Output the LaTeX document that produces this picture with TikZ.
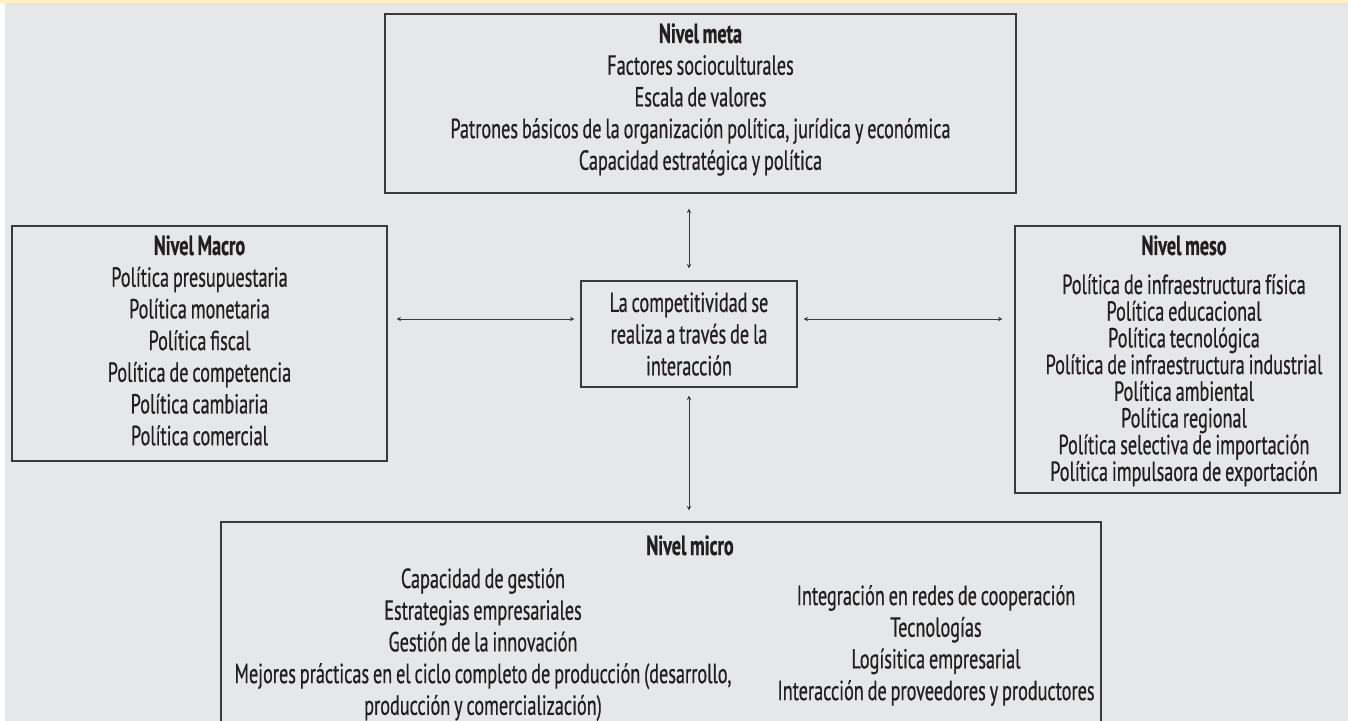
\documentclass[tikz,border=0pt]{standalone}
\usepackage{fontspec}
\setmainfont{PT Sans}[FakeStretch=0.66,WordSpace=0.8,FakeBold=0.6]
\usetikzlibrary{arrows.meta}
\definecolor{panelgray}{HTML}{E6E7E8}
\definecolor{bandyellow}{HTML}{FFF1C6}
\definecolor{inkblack}{HTML}{231F20}
\definecolor{edgegray}{HTML}{3A3A3A}
\begin{document}
\begin{tikzpicture}[x=0.5pt,y=-0.5pt,>={Stealth[length=2.2pt,width=2.2pt]},
  levelbox/.style={draw=edgegray,line width=0.65pt,inner sep=0pt},
  leveltext/.style={text width=#1,align=flush center,anchor=base,inner sep=0pt,text=inkblack,
    font=\fontsize{13.8}{15.85}\selectfont},
  leveltext/.default=300pt,
  link/.style={<->,draw=edgegray,line width=0.45pt}]
  \useasboundingbox (0,0) rectangle (1348,721);

  % Background
  \fill[white] (0,0) rectangle (1348,721);
  \fill[panelgray] (5,3.3) rectangle (1348,721);
  \fill[bandyellow] (0,0) rectangle (1348,3.3);
  \clip (0,0) rectangle (1348,721);

  % Level boxes
  \node[levelbox, minimum width=315.5pt, minimum height=89.5pt] (meta) at (700.5,103.5) {};
  \node[levelbox, minimum width=187.5pt, minimum height=117.5pt] (macro) at (199.5,343.5) {};
  \node[levelbox, minimum width=162.5pt, minimum height=133.5pt] (meso) at (1177.5,359.5) {};
  \node[levelbox, minimum width=440pt, minimum height=109pt] (micro) at (661,631) {};
  \node[levelbox, minimum width=108pt, minimum height=53pt, align=flush center, text=inkblack,
    font=\fontsize{13.8}{15.85}\selectfont] (core) at (689,334)
    {La competitividad se\\realiza a través de la\\interacción};

  % Level contents
  \node[leveltext] (metatext) at (700.5,43) {\textbf{Nivel meta}\\Factores socioculturales\\Escala de valores\\Patrones básicos de la organización política, jurídica y económica\\Capacidad estratégica y política};
  \node[leveltext] (macrotext) at (199.5,255) {\textbf{Nivel Macro}\\Política presupuestaria\\Política monetaria\\Política fiscal\\Política de competencia\\Política cambiaria\\Política comercial};
  \node[leveltext, font=\fontsize{13.8}{13.35}\selectfont] (mesotext) at (1184,255) {\textbf{Nivel meso}\\[6.15pt]Política de infraestructura física\\Política educacional\\Política tecnológica\\Política de infraestructura industrial\\Política ambiental\\Política regional\\Política selectiva de importación\\Política impulsaora de exportación};
  \node[leveltext] (microtitle) at (690,555) {\textbf{Nivel micro}};
  \node[leveltext] (microleft) at (483,588) {Capacidad de gestión\\Estrategias empresariales\\Gestión de la innovación\\Mejores prácticas en el ciclo completo de producción (desarrollo,\\producción y comercialización)};
  \node[leveltext] (microright) at (936,605) {Integración en redes de cooperación\\Tecnologías\\Logísitica empresarial\\Interacción de proveedores y productores};

  % Interaction arrows
  \coordinate (mid) at (689,319);
  \draw[link, shorten <=6pt, shorten >=7.5pt] (core.north) -- (core.north |- meta.south);
  \draw[link, shorten <=4pt, shorten >=5.5pt] (core.south) -- (core.south |- micro.north);
  \draw[link, shorten <=3pt, shorten >=4.5pt] (core.west |- mid) -- (macro.east |- mid);
  \draw[link, shorten <=3pt, shorten >=6pt] (core.east |- mid) -- (meso.west |- mid);
\end{tikzpicture}
\end{document}
